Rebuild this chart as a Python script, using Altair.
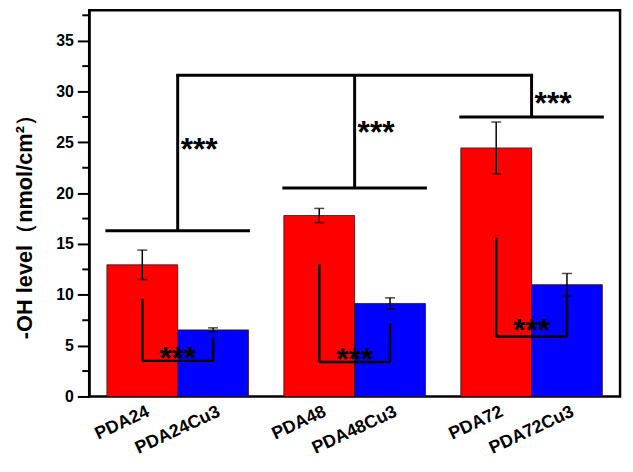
import altair as alt
import pandas as pd

# ---------------- data ----------------
groups = ["PDA24", "PDA48", "PDA72"]
kinds = ["PDA", "PDACu3"]
red_labels = ["PDA24", "PDA48", "PDA72"]
blue_labels = ["PDA24Cu3", "PDA48Cu3", "PDA72Cu3"]
red_means = [12.95, 17.8, 24.45]
red_errs = [1.45, 0.7, 2.55]
blue_means = [6.55, 9.15, 11.0]
blue_errs = [0.2, 0.55, 1.1]

# lower brackets (PDA vs PDACu3 inside a group)
low_left_top = [9.6, 13.0, 15.6]
low_bottom = [3.5, 3.4, 5.9]
low_right_top = [5.8, 7.2, 9.9]
low_star_y = [4.45, 4.4, 7.2]

# upper brackets (between groups)
up_group_level = [16.3, 20.5, 27.5]
up_top_level = 31.6
up_star_y = [25.0, 26.7, 29.5]

y_major = [0, 5, 10, 15, 20, 25, 30, 35]
y_minor = [2.5, 7.5, 12.5, 17.5, 22.5, 27.5, 32.5, 37.5]
y_max = 38

FONT = "Liberation Sans"
W, H = 536, 390

# ---------------- tables ----------------
rows = []
for i, g in enumerate(groups):
    rows.append(dict(group=g, kind=kinds[0], label=red_labels[i], mean=red_means[i],
                     lo=red_means[i] - red_errs[i], hi=red_means[i] + red_errs[i]))
    rows.append(dict(group=g, kind=kinds[1], label=blue_labels[i], mean=blue_means[i],
                     lo=blue_means[i] - blue_errs[i], hi=blue_means[i] + blue_errs[i]))
bars_df = pd.DataFrame(rows)
caps_df = pd.concat([
    bars_df[["group", "kind", "lo"]].rename(columns={"lo": "v"}),
    bars_df[["group", "kind", "hi"]].rename(columns={"hi": "v"}),
])
low_df = pd.DataFrame(dict(group=groups, lt=low_left_top, lb=low_bottom,
                           rt=low_right_top, sy=low_star_y))
up_df = pd.DataFrame(dict(group=groups, lvl=up_group_level,
                          top=[up_top_level] * 3, sy=up_star_y))
top_df = pd.DataFrame(dict(first=[groups[0]], last=[groups[-1]], top=[up_top_level]))
minor_df = pd.DataFrame(dict(v=y_minor))

xscale = alt.Scale(domain=groups, paddingInner=0.2, paddingOuter=0.1)
oscale = alt.Scale(domain=kinds, paddingInner=0, paddingOuter=0)
yscale = alt.Scale(domain=[0, y_max], nice=False, zero=True)

X = alt.X("group:N", scale=xscale, axis=None)
XO = alt.XOffset("kind:N", scale=oscale)

yaxis = alt.Axis(
    values=y_major, tickSize=12, tickWidth=2, tickColor="black",
    domainColor="black", domainWidth=2, grid=False,
    labelFont=FONT, labelFontSize=16, labelFontWeight="bold", labelColor="black",
    labelPadding=4,
    title="-OH level（nmol/cm²）", titleFont=FONT, titleFontSize=22,
    titleFontWeight="bold", titleColor="black", titleX=-58, titleY=213,
    titleAlign="center", titleBaseline="alphabetic", titleAngle=270,
)

bars = alt.Chart(bars_df).mark_bar(stroke="#331111", strokeWidth=0.8).encode(
    x=X, xOffset=XO,
    y=alt.Y("mean:Q", scale=yscale, axis=yaxis),
    color=alt.Color("kind:N", scale=alt.Scale(domain=kinds, range=["#FF0000", "#0000FF"]),
                    legend=None),
)

err = alt.Chart(bars_df).mark_rule(color="black", strokeWidth=1.5).encode(
    x=X, xOffset=XO, y=alt.Y("lo:Q", scale=yscale), y2="hi:Q")
caps = alt.Chart(caps_df).mark_tick(color="black", size=10, thickness=1.5).encode(
    x=X, xOffset=XO, y=alt.Y("v:Q", scale=yscale))

minor = alt.Chart(minor_df).mark_rule(color="black", strokeWidth=2).encode(
    x=alt.value(-7), x2=alt.value(0), y=alt.Y("v:Q", scale=yscale))

LW = 2.5
low_l = alt.Chart(low_df).mark_rule(color="black", strokeWidth=LW).encode(
    x=alt.X("group:N", scale=xscale, axis=None, bandPosition=0.25),
    y=alt.Y("lt:Q", scale=yscale), y2="lb:Q")
low_r = alt.Chart(low_df).mark_rule(color="black", strokeWidth=LW).encode(
    x=alt.X("group:N", scale=xscale, axis=None, bandPosition=0.75),
    y=alt.Y("rt:Q", scale=yscale), y2="lb:Q")
low_h = alt.Chart(low_df).mark_rule(color="black", strokeWidth=LW).encode(
    x=alt.X("group:N", scale=xscale, axis=None, bandPosition=0.25),
    x2=alt.X2("group:N", bandPosition=0.75),
    y=alt.Y("lb:Q", scale=yscale))
low_star = alt.Chart(low_df).mark_text(
    text="***", font=FONT, fontSize=32, fontWeight="bold", color="black",
    align="center", baseline="alphabetic", dy=18).encode(
    x=X, y=alt.Y("sy:Q", scale=yscale))

UW = 3
up_h = alt.Chart(up_df).mark_rule(color="black", strokeWidth=UW, strokeCap="square").encode(
    x=alt.X("group:N", scale=xscale, axis=None, bandPosition=0),
    x2=alt.X2("group:N", bandPosition=1),
    y=alt.Y("lvl:Q", scale=yscale))
up_v = alt.Chart(up_df).mark_rule(color="black", strokeWidth=UW).encode(
    x=X, y=alt.Y("lvl:Q", scale=yscale), y2="top:Q")
top_h = alt.Chart(top_df).mark_rule(color="black", strokeWidth=UW, strokeCap="square").encode(
    x=alt.X("first:N", scale=xscale, axis=None), x2="last:N",
    y=alt.Y("top:Q", scale=yscale))
up_star = alt.Chart(up_df).mark_text(
    text="***", font=FONT, fontSize=32, fontWeight="bold", color="black",
    align="left", baseline="alphabetic", dx=3, dy=18).encode(
    x=X, y=alt.Y("sy:Q", scale=yscale))

xlabels = alt.Chart(bars_df).mark_text(
    font=FONT, fontSize=18, fontWeight="bold", color="black",
    align="right", baseline="alphabetic", angle=335, dx=9).encode(
    x=X, xOffset=XO, y=alt.value(H + 23), text="label:N")

chart = alt.layer(
    bars, err, caps, minor, low_l, low_r, low_h, low_star,
    up_h, up_v, top_h, up_star, xlabels,
).properties(
    width=W, height=H,
    autosize=alt.AutoSizeParams(type="none"),
    padding={"left": 82, "top": 0, "right": 5, "bottom": 70},
    background="white",
).configure_view(stroke="black", strokeWidth=2.5)

chart.save("out.html", embed_options={"renderer": "svg", "actions": False})
